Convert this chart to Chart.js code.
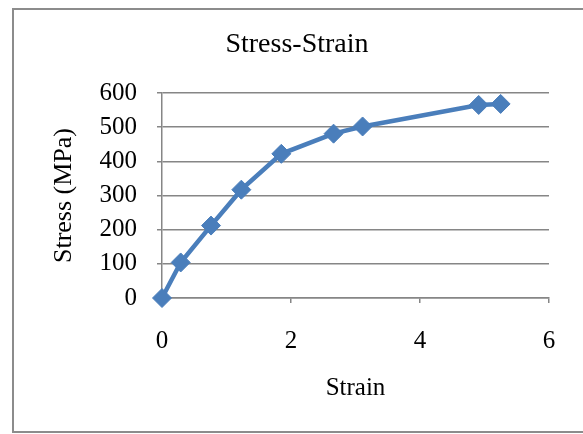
<!DOCTYPE html>
<html>
<head>
<meta charset="utf-8">
<script src="https://cdn.jsdelivr.net/npm/chart.js@4/dist/chart.umd.min.js"></script>
<style>
  html, body { margin: 0; padding: 0; background: #ffffff; }
  #wrap { position: relative; width: 583px; height: 434px; }
  canvas { display: block; }
</style>
</head>
<body>
<div id="wrap"><canvas id="c" width="583" height="434"></canvas></div>
<script>
const strain = [0, 0.29, 0.76, 1.23, 1.85, 2.66, 3.11, 4.91, 5.25];
const stress = [0, 104, 212, 317, 422, 481, 502, 565, 568];
const chartTitle = 'Stress-Strain';
const xTitle = 'Strain';
const yTitle = 'Stress (MPa)';

const points = strain.map((x, i) => ({ x: x, y: stress[i] }));
const serif = '"Liberation Serif", "Times New Roman", serif';
const gridGray = '#868686';

const borderPlugin = {
  id: 'outerBorder',
  beforeDraw(chart) {
    const ctx = chart.ctx;
    ctx.save();
    ctx.strokeStyle = '#8c8c8c';
    ctx.lineWidth = 2;
    ctx.strokeRect(13, 9, 620, 423);
    ctx.restore();
  }
};

new Chart(document.getElementById('c'), {
  type: 'scatter',
  data: {
    datasets: [{
      data: points,
      showLine: true,
      clip: false,
      borderColor: '#4a7ebb',
      backgroundColor: '#4a7ebb',
      borderWidth: 4.5,
      pointStyle: 'rectRot',
      pointRadius: 9.5,
      pointHoverRadius: 9.5,
      pointBorderWidth: 1,
      tension: 0
    }]
  },
  plugins: [borderPlugin],
  options: {
    responsive: false,
    animation: false,
    layout: { padding: { left: 45, right: 34, top: 20, bottom: 0 } },
    plugins: {
      legend: { display: false },
      tooltip: { enabled: false },
      title: {
        display: true,
        text: chartTitle,
        color: '#000',
        font: { family: serif, size: 28, weight: 'normal' },
        padding: { top: 8, bottom: 31.4 }
      }
    },
    scales: {
      x: {
        type: 'linear',
        min: 0, max: 6,
        ticks: { stepSize: 2, color: '#000', padding: 23, font: { family: serif, size: 25 } },
        grid: { drawOnChartArea: false, drawTicks: true, tickLength: 5, color: gridGray, lineWidth: 1.5 },
        border: { color: gridGray, width: 1.5 },
        title: { display: true, text: xTitle, color: '#000', padding: { top: 10, bottom: 31 }, font: { family: serif, size: 25 } },
        afterFit(scale) { scale.height = 136; }
      },
      y: {
        type: 'linear',
        min: 0, max: 600,
        ticks: { stepSize: 100, color: '#000', padding: 20, font: { family: serif, size: 25 } },
        grid: { drawTicks: true, tickLength: 5, color: gridGray, lineWidth: 1.5 },
        border: { color: gridGray, width: 1.5 },
        title: { display: true, text: yTitle, color: '#000', padding: { top: 4, bottom: 4 }, font: { family: serif, size: 26 } },
        afterFit(scale) { scale.width = 117; }
      }
    }
  }
});
</script>
</body>
</html>
